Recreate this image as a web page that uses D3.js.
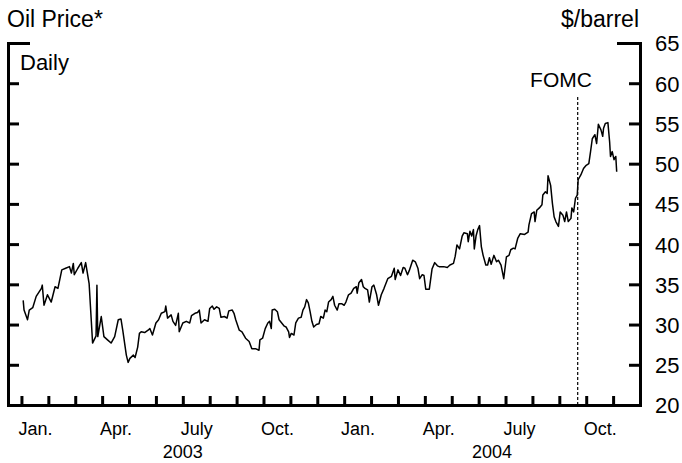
<!DOCTYPE html>
<html>
<head>
<meta charset="utf-8">
<script src="https://cdn.jsdelivr.net/npm/d3@7"></script>
<style>
  body { margin: 0; background: #fff; }
  text { font-family: "Liberation Sans", Arial, sans-serif; fill: #000; }
</style>
</head>
<body>
<div id="chart"></div>
<script>
// Daily oil price, day offsets counted from Jan 1 2003
const days = [2,3,7,9,13,17,23,24,26,30,34,38,41,45,49,53,55,57,58,62,66,68,71,73,75,79,83,84,85,89,92,96,100,104,108,111,113,117,119,121,125,127,130,
  132,134,138,142,144,147,151,154,157,161,162,164,168,170,173,176,177,181,185,189,191,195,198,200,202,206,210,212,215,217,220,223,225,229,232,234,238,240,242,246,249,253,257,260,264,
  268,269,272,275,278,280,282,283,286,289,291,294,297,299,302,303,305,308,310,313,316,318,320,322,324,326,328,330,333,336,338,341,343,345,347,350,352,354,357,359,362,365,367,370,373,376,379,380,382,385,387,389,392,394,397,399,
  402,404,407,410,414,418,421,422,425,428,431,433,436,438,442,445,448,450,453,455,457,461,464,467,470,472,474,477,481,484,488,490,492,495,498,500,504,505,507,509,511,512,514,516,518,520,522,525,527,529,531,534,537,539,542,545,548,551,553,556,558,561,564,
  569,573,574,577,580,581,583,586,589,590,593,595,596,599,601,603,605,608,610,613,615,617,619,622,623,625,627,629,630,633,636,639,642,644,646,649,651,653,656,658,659,661,664,666,667,669,671,673,674];
const prices = [33.0,31.8,30.6,31.8,32.1,33.5,34.5,34.9,32.4,33.7,32.8,34.7,34.5,36.8,37.0,37.2,36.4,37.6,36.2,37.0,37.7,36.4,37.7,36.4,35.1,27.7,28.6,34.9,28.5,31.0,28.5,28.1,27.7,28.5,30.6,30.7,29.3,26.2,25.3,25.8,26.2,25.9,27.2,
  28.9,29.1,29.0,29.3,29.5,28.7,30.2,30.6,31.4,31.6,32.3,30.8,31.2,30.4,29.9,31.4,29.1,30.2,30.4,30.2,31.1,31.4,31.5,31.8,30.2,30.6,30.4,32.0,32.3,31.9,32.2,32.0,30.9,31.0,30.8,31.7,31.8,31.4,30.6,29.3,29.1,28.3,27.9,27.0,27.0,
  26.8,28.1,28.3,29.5,30.2,30.4,29.5,31.8,31.9,31.6,30.6,30.2,29.8,29.7,29.1,28.4,28.9,28.7,30.2,30.8,30.9,31.8,32.2,33.1,32.7,31.6,30.4,29.7,30.0,30.1,31.0,30.8,31.8,31.6,32.8,33.1,33.5,32.4,31.8,32.6,32.6,32.4,32.8,33.7,33.9,34.5,34.7,33.9,35.2,35.6,34.7,34.5,34.3,32.8,34.7,34.9,
  33.7,32.4,33.7,34.5,35.7,36.0,37.0,35.6,36.8,36.1,37.1,37.0,36.2,36.7,38.0,37.8,37.0,35.7,36.2,36.1,34.4,34.4,36.9,37.7,37.3,37.2,37.2,37.2,37.1,37.4,37.6,38.5,39.9,39.4,41.0,41.4,41.3,40.3,41.6,41.0,41.8,39.4,41.0,41.8,42.3,39.7,38.6,37.4,37.4,38.3,37.5,38.6,37.8,38.0,37.4,35.7,38.4,38.6,39.3,39.5,39.4,40.7,41.3,
  41.2,41.5,42.4,43.8,44.0,42.8,44.2,44.5,44.9,46.1,46.5,46.3,48.5,47.3,45.1,43.4,42.8,42.2,44.0,43.6,42.8,44.0,42.8,43.2,44.5,44.0,45.7,46.1,48.0,48.6,49.4,49.8,50.0,51.5,53.1,53.6,52.5,54.9,54.2,53.4,54.4,55.0,55.1,52.7,50.9,51.5,50.5,50.9,49.0];

const quarterLabels = ['Jan.', 'Apr.', 'July', 'Oct.', 'Jan.', 'Apr.', 'July', 'Oct.'];
const yearLabels = ['2003', '2004'];
const yTicks = [20, 25, 30, 35, 40, 45, 50, 55, 60, 65];
const fomcDate = '2004-09-21';

// Set svg dimensions
let svgWidth = 682;
let svgHeight = 463;
let plot = { left: 8, right: 640, top: 43, bottom: 405 };

const origin = new Date(2003, 0, 1);
const dates = days.map(d => d3.timeDay.offset(origin, d));

// months counted from Jan 2003, every month the same width
function monthUnits(date) {
    let m0 = d3.timeMonth.floor(date);
    let m1 = d3.timeMonth.offset(m0, 1);
    return d3.timeMonth.count(origin, m0) + (date - m0) / (m1 - m0);
}

let svg = d3.select('#chart').append('svg')
    .attr('width', svgWidth)
    .attr('height', svgHeight);

let xScale = d3.scaleLinear().domain([-0.5, 23]).range([plot.left, plot.right]);
let yScale = d3.scaleLinear().domain([20, 65]).range([plot.bottom, plot.top]);

// Left axis, ticks pointing in, no labels
let leftAxis = svg.append('g')
    .attr('transform', `translate(${plot.left}, 0)`)
    .call(d3.axisLeft(yScale).tickValues(yTicks).tickSizeInner(-11).tickSizeOuter(0).tickFormat(''));

// Right axis with labels
let rightAxis = svg.append('g')
    .attr('transform', `translate(${plot.right}, 0)`)
    .call(d3.axisRight(yScale).tickValues(yTicks).tickSizeInner(-11).tickSizeOuter(0).tickPadding(15));
rightAxis.selectAll('text').style('font-size', '22px').attr('dy', '0.36em');

// Bottom axis: month ticks
let monthTicks = d3.range(0, 23);
let bottomAxis = svg.append('g')
    .attr('transform', `translate(0, ${plot.bottom})`)
    .call(d3.axisBottom(xScale).tickValues(monthTicks).tickSizeInner(-9).tickSizeOuter(0).tickFormat(''));

// Quarter labels centred in their month
let quarterAxis = svg.append('g')
    .attr('transform', `translate(0, ${plot.bottom})`)
    .call(d3.axisBottom(xScale)
        .tickValues(quarterLabels.map((q, i) => i * 3 + 0.5))
        .tickSize(0).tickPadding(17)
        .tickFormat((d, i) => quarterLabels[i]));
quarterAxis.select('.domain').remove();
quarterAxis.selectAll('text').style('font-size', '18px');

// Year labels centred under the visible part of each year
let xDom = xScale.domain();
yearLabels.forEach((yr, i) => {
    let a = Math.max(i * 12, 0);
    let b = Math.min((i + 1) * 12, xDom[1]);
    svg.append('text')
        .attr('x', xScale((a + b) / 2))
        .attr('y', 458)
        .attr('text-anchor', 'middle')
        .style('font-size', '18px')
        .text(yr);
});

// Axis styling
svg.selectAll('.domain').attr('stroke', '#000').attr('stroke-width', 3).attr('stroke-linecap', 'square');
svg.selectAll('.tick line').attr('stroke', '#000').attr('stroke-width', 3);

// Longer bracket ticks at the top
leftAxis.selectAll('.tick').filter(d => d === 65).select('line').attr('x2', 22);
rightAxis.selectAll('.tick').filter(d => d === 65).select('line').attr('x2', -23);

// FOMC marker
let fx = xScale(monthUnits(new Date(fomcDate + 'T12:00:00')));
svg.append('line')
    .attr('x1', fx).attr('x2', fx)
    .attr('y1', 97).attr('y2', plot.bottom - 1)
    .attr('stroke', '#000')
    .attr('stroke-width', 1.2)
    .attr('stroke-dasharray', '3,2');
svg.append('text')
    .attr('x', 561).attr('y', 87)
    .attr('text-anchor', 'middle')
    .style('font-size', '21px')
    .text('FOMC');

// Price line
let line = d3.line()
    .x((d, i) => xScale(monthUnits(dates[i])))
    .y(d => yScale(d));
svg.append('path')
    .datum(prices)
    .attr('fill', 'none')
    .attr('stroke', '#000')
    .attr('stroke-width', 1.5)
    .attr('stroke-linejoin', 'round')
    .attr('d', line);

// Titles
svg.append('text').attr('x', 7).attr('y', 27).style('font-size', '23px').text('Oil Price*');
svg.append('text').attr('x', 639).attr('y', 27).attr('text-anchor', 'end').style('font-size', '23px').text('$/barrel');
svg.append('text').attr('x', 20).attr('y', 70).style('font-size', '22px').text('Daily');
</script>
</body>
</html>
